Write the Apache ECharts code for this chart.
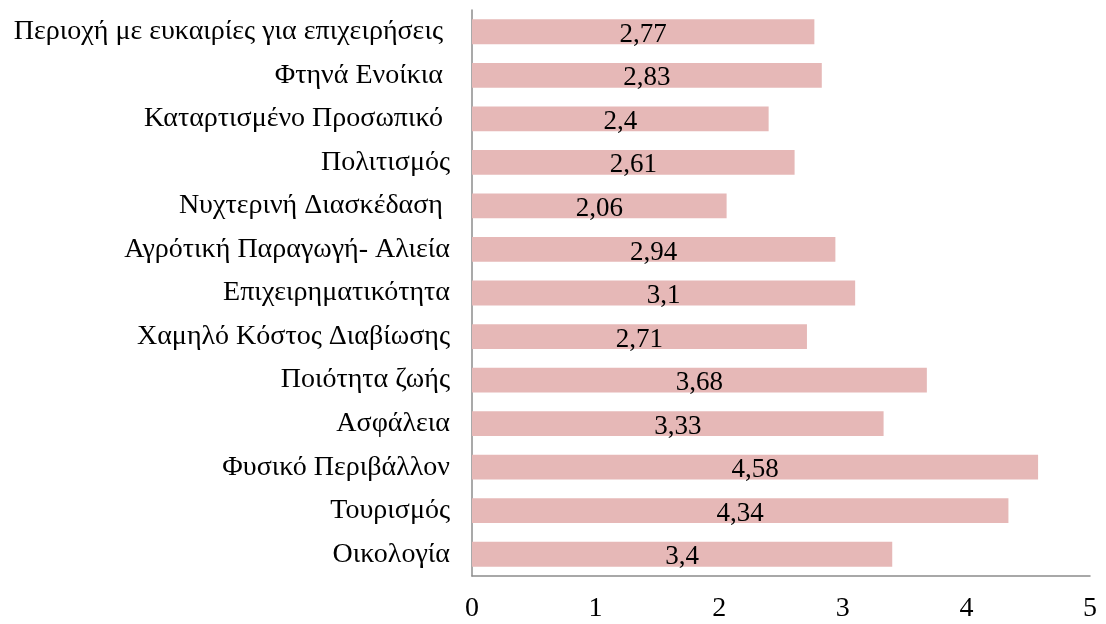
<!DOCTYPE html>
<html lang="el">
<head>
    <meta charset="UTF-8">
    <title>Bar chart</title>
    <script src="https://cdn.jsdelivr.net/npm/echarts@6/dist/echarts.min.js"></script>
</head>
<body style="margin: 0; background-color: #ffffff">
<div id="container" style="width: 1106px; height: 624px"></div>
<script type="text/javascript">
    // κατηγορίες από πάνω προς τα κάτω
    const categories = [
        'Περιοχή με ευκαιρίες για επιχειρήσεις ',
        'Φτηνά Ενοίκια ',
        'Καταρτισμένο Προσωπικό ',
        'Πολιτισμός',
        'Νυχτερινή Διασκέδαση ',
        'Αγρότική Παραγωγή- Αλιεία',
        'Επιχειρηματικότητα',
        'Χαμηλό Κόστος Διαβίωσης',
        'Ποιότητα ζωής',
        'Ασφάλεια',
        'Φυσικό Περιβάλλον',
        'Τουρισμός',
        'Οικολογία'
    ];
    const values = [2.77, 2.83, 2.4, 2.61, 2.06, 2.94, 3.1, 2.71, 3.68, 3.33, 4.58, 4.34, 3.4];
    const xTicks = [0, 1, 2, 3, 4, 5];

    const serif = '"Liberation Serif", "DejaVu Serif", serif';
    let myChart = echarts.init(document.getElementById('container'));
    let option = {
        animation: false,
        grid: {left: 472, right: 16, top: 10, bottom: 48},
        xAxis: {
            type: 'value',
            min: xTicks[0],
            max: xTicks[xTicks.length - 1],
            interval: 1,
            axisLine: {show: true, lineStyle: {color: '#8c8c8c', width: 1.5}},
            axisTick: {show: false},
            splitLine: {show: false},
            axisLabel: {
                color: '#000', fontFamily: serif, fontSize: 28, margin: 19,
                formatter: function (v) { return String(v); }
            }
        },
        yAxis: {
            type: 'category',
            inverse: true,
            data: categories,
            axisLine: {show: true, lineStyle: {color: '#8c8c8c', width: 1.5}},
            axisTick: {show: false},
            axisLabel: {color: '#000', fontFamily: serif, fontSize: 28, margin: 22}
        },
        series: [{
            type: 'bar',
            data: values,
            barCategoryGap: '43%',
            itemStyle: {color: '#e6b8b7'},
            label: {
                show: true,
                position: 'inside',
                color: '#000',
                fontFamily: serif,
                fontSize: 27,
                offset: [0, 3],
                formatter: function (p) { return String(p.value).replace('.', ','); }
            }
        }]
    };
    myChart.setOption(option, true);
</script>
</body>
</html>
